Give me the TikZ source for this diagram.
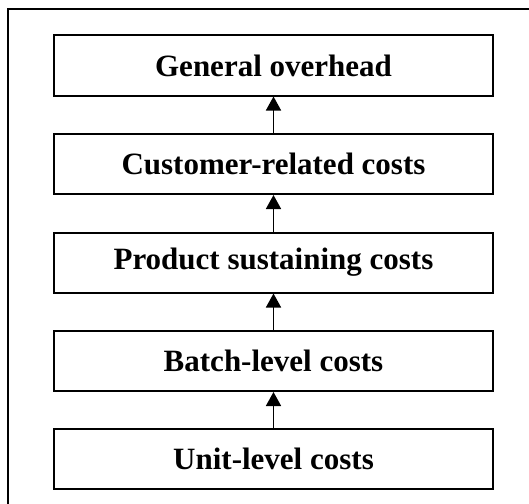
\documentclass[tikz,border=0pt]{standalone}
\usepackage{fontspec}
\setmainfont{Liberation Serif}
\usetikzlibrary{arrows.meta}
\tikzset{costbox/.style={draw,line width=2pt,minimum width=439pt,minimum height=60pt,inner sep=0pt,font=\bfseries\fontsize{31pt}{36pt}\selectfont},
  uparrow/.style={line width=1.6pt,-{Triangle[width=15pt,length=14pt]}}}
\begin{document}
\begin{tikzpicture}[x=1pt,y=-1pt]
\useasboundingbox (0,0) rectangle (529,503);
\clip (0,0) rectangle (529,503);
\draw[line width=2pt] (8,540) -- (8,9) -- (560,9);
\node[costbox] (overhead) at (273.5,65.5) {General overhead};
\node[costbox] (customer) at (273.5,164) {Customer-related costs};
\node[costbox] (product) at (273.5,262.5) {Product sustaining costs};
\node[costbox] (batch) at (273.5,361) {Batch-level costs};
\node[costbox] (unit) at (273.5,459) {Unit-level costs};
\draw[uparrow] (unit) -- (batch);
\draw[uparrow] (batch) -- (product);
\draw[uparrow] (product) -- (customer);
\draw[uparrow] (customer) -- (overhead);
\end{tikzpicture}
\end{document}
